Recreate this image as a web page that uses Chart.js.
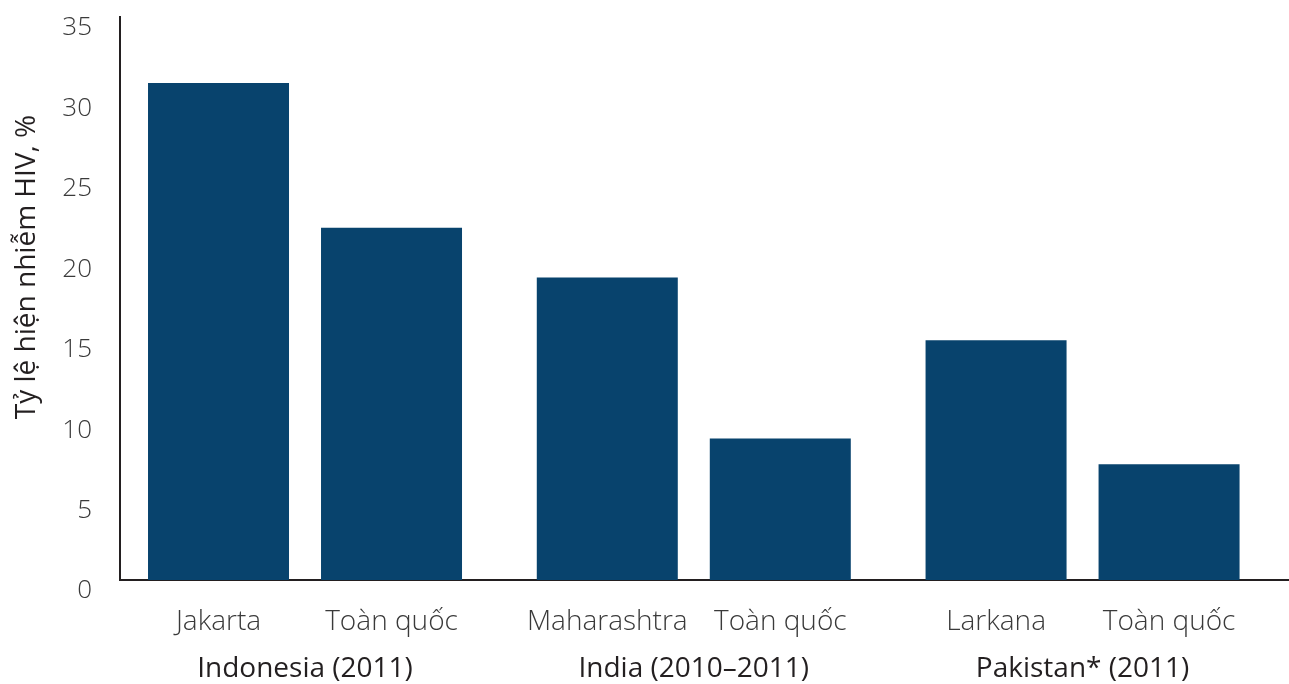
<!DOCTYPE html>
<html>
<head>
<meta charset="utf-8">
<script src="https://cdn.jsdelivr.net/npm/chart.js@4"></script>
<style>
  html, body { margin: 0; padding: 0; background: #ffffff; }
  #wrap { width: 1289px; height: 684px; }
</style>
</head>
<body>
<div id="wrap"><canvas id="c" width="1289" height="684"></canvas></div>
<script>
// Data
const groupLabels = ['Indonesia (2011)', 'India (2010–2011)', 'Pakistan* (2011)'];
const cityLabels = ['Jakarta', 'Maharashtra', 'Larkana'];
const nationalLabels = ['Toàn quốc', 'Toàn quốc', 'Toàn quốc'];
const cityValues = [30.9, 18.8, 14.9];
const nationalValues = [21.9, 8.8, 7.2];
const yTicks = [0, 5, 10, 15, 20, 25, 30, 35];
const yTitle = 'Tỷ lệ hiện nhiễm HIV, %';

const barColor = '#08436d';
const axisColor = '#231f20';
const FONT = '"Open Sans", "Noto Sans", sans-serif';

const textPlugin = {
  id: 'extraText',
  afterDraw(chart) {
    const ctx = chart.ctx;
    const sets = [cityLabels, nationalLabels];
    ctx.save();
    ctx.font = '300 28px ' + FONT;
    ctx.fillStyle = '#3a3a3a';
    ctx.textAlign = 'center';
    ctx.textBaseline = 'middle';
    sets.forEach((labels, di) => {
      const meta = chart.getDatasetMeta(di);
      meta.data.forEach((bar, i) => {
        ctx.fillText(labels[i], bar.x, chart.chartArea.bottom + 42);
      });
    });
    // y-axis title
    ctx.translate(27, 267);
    ctx.rotate(-Math.PI / 2);
    ctx.font = '400 28px ' + FONT;
    ctx.fillStyle = '#231f20';
    ctx.fillText(yTitle, 0, 0);
    ctx.restore();
  }
};

new Chart(document.getElementById('c'), {
  type: 'bar',
  data: {
    datasets: [
      { label: 'city', data: cityValues.map((v, i) => ({ x: i, y: v })), backgroundColor: barColor },
      { label: 'national', data: nationalValues.map((v, i) => ({ x: i, y: v })), backgroundColor: barColor }
    ]
  },
  plugins: [textPlugin],
  options: {
    responsive: false,
    animation: false,
    categoryPercentage: 0.89,
    barPercentage: 0.815,
    layout: { padding: { top: 17, right: 0, bottom: 0, left: 0 } },
    plugins: { legend: { display: false }, tooltip: { enabled: false } },
    scales: {
      x: {
        type: 'linear',
        offset: false,
        min: -0.4759,
        max: 2.531,
        grid: { display: false, drawTicks: false },
        border: { display: true, color: axisColor, width: 2 },
        afterBuildTicks(scale) { scale.ticks = groupLabels.map((g, i) => ({ value: i })); },
        afterFit(scale) {
          scale.height = 104;
          scale.paddingLeft = 0; scale.paddingRight = 0;
          scale.paddingTop = 0; scale.paddingBottom = 0;
        },
        ticks: {
          padding: 72,
          maxRotation: 0,
          autoSkip: false,
          color: '#231f20',
          font: { family: FONT, size: 28, weight: '400' },
          callback: (v) => groupLabels[v]
        }
      },
      y: {
        min: 0,
        max: 35,
        afterBuildTicks(scale) { scale.ticks = yTicks.map(v => ({ value: v })); },
        afterFit(scale) {
          scale.width = 120;
          scale.paddingTop = 0; scale.paddingBottom = 0;
          scale.paddingLeft = 0; scale.paddingRight = 0;
        },
        grid: { display: false, drawTicks: false },
        border: { display: true, color: axisColor, width: 2 },
        ticks: {
          padding: 28,
          labelOffset: 11,
          color: '#3a3a3a',
          font: { family: FONT, size: 26, weight: '300' }
        }
      }
    }
  }
});
</script>
</body>
</html>
